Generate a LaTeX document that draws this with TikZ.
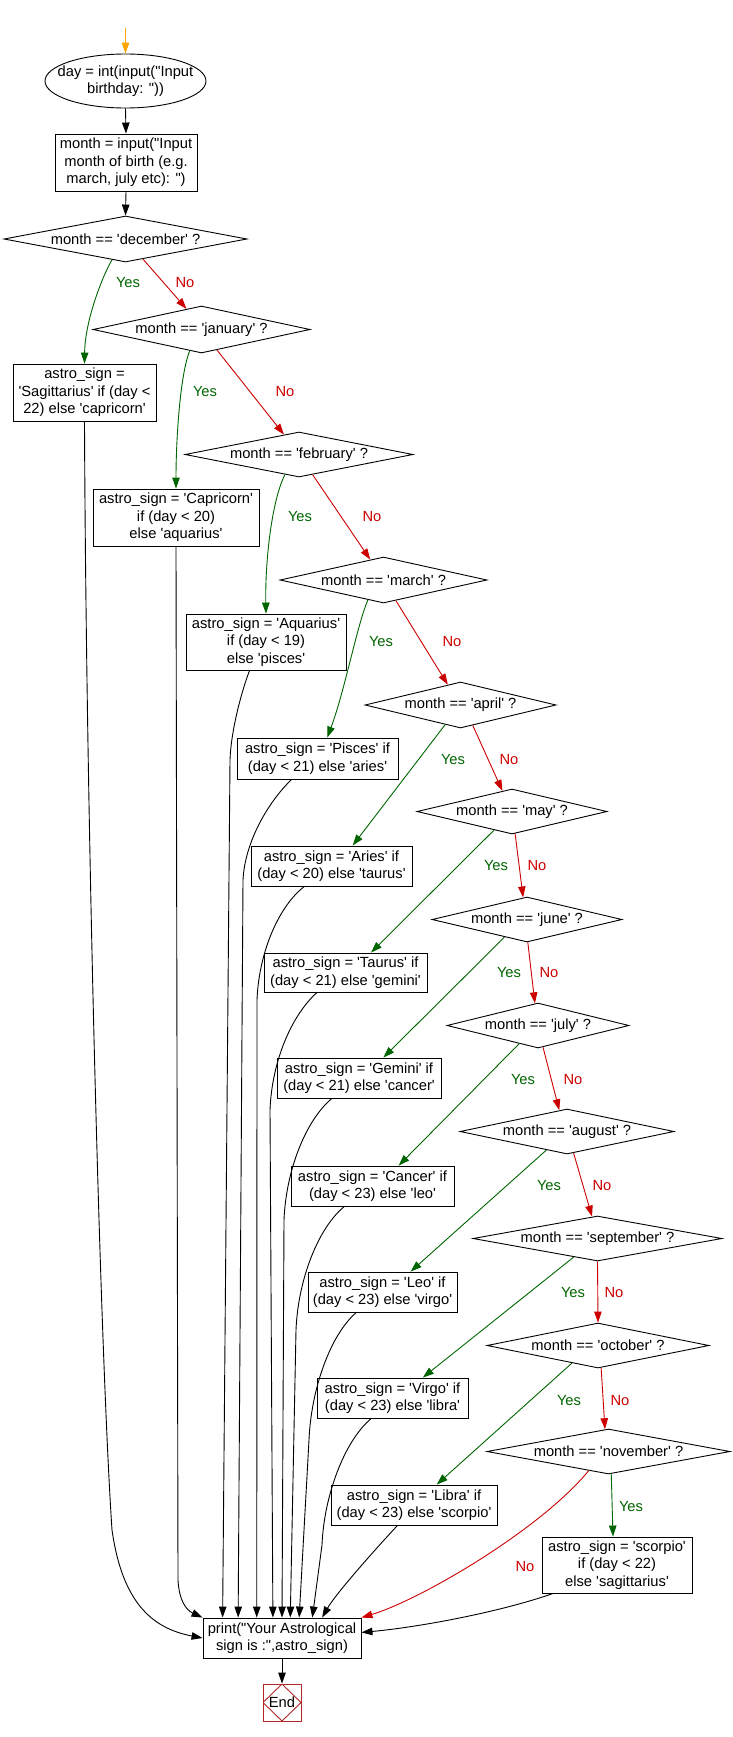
\documentclass[tikz,border=0pt]{standalone}
\usepackage{fontspec}
\newfontfamily\af{Liberation Sans}
\usetikzlibrary{shapes.geometric,arrows.meta}
\definecolor{grn}{RGB}{0,100,0}
\definecolor{rd}{RGB}{204,0,0}
\definecolor{endc}{RGB}{178,40,40}
\definecolor{orng}{RGB}{255,165,0}
\begin{document}
\begin{tikzpicture}[x=1pt,y=-1pt,
  every node/.style={font=\af\fontsize{14.7}{17.5}\selectfont},
  box/.style={draw, rectangle, inner sep=0pt, align=center, line width=0.9pt},
  dia/.style={draw, diamond, inner sep=0pt, line width=0.9pt},
  ell/.style={draw, ellipse, inner sep=0pt, line width=0.9pt},
  arr/.style={line width=0.9pt, -{Triangle[length=11pt,width=7.5pt]}},
  yesline/.style={arr, draw=grn},
  noline/.style={arr, draw=rd},
  flow/.style={arr, draw=black},
  yeslbl/.style={text=grn},
  nolbl/.style={text=rd},
]
\useasboundingbox (0,0) rectangle (732,1737);
\coordinate (start) at (125.5,28);
\node[ell, minimum width=161pt, minimum height=54pt,
  label={[align=center]center:{day = int(input("Input\\birthday: "))}}] (ell) at (125.5,81) {};
\node[box, minimum width=142pt, minimum height=57pt] (month) at (126,162.5)
  {month = input("Input\\month of birth (e.g.\\march, july etc): ")};

\node[dia, minimum width=243pt, minimum height=46pt, label=center:{month == 'december' ?}] (dec) at (125.5,239) {};
\node[dia, minimum width=217pt, minimum height=47pt, label=center:{month == 'january' ?}] (jan) at (201.5,329.5) {};
\node[dia, minimum width=228pt, minimum height=45pt, label=center:{month == 'february' ?}] (feb) at (299,454.5) {};
\node[dia, minimum width=207pt, minimum height=46pt, label=center:{month == 'march' ?}] (mar) at (383.5,580) {};
\node[dia, minimum width=191pt, minimum height=46pt, label=center:{month == 'april' ?}] (apr) at (460.5,705) {};
\node[dia, minimum width=190pt, minimum height=45pt, label=center:{month == 'may' ?}] (may) at (512,811.5) {};
\node[dia, minimum width=190pt, minimum height=45pt, label=center:{month == 'june' ?}] (jun) at (527,919.5) {};
\node[dia, minimum width=182pt, minimum height=45pt, label=center:{month == 'july' ?}] (jul) at (538,1025.5) {};
\node[dia, minimum width=214pt, minimum height=45pt, label=center:{month == 'august' ?}] (aug) at (567,1131.5) {};
\node[dia, minimum width=249pt, minimum height=45pt, label=center:{month == 'september' ?}] (sep) at (597.5,1238.5) {};
\node[dia, minimum width=222pt, minimum height=45pt, label=center:{month == 'october' ?}] (oct) at (598,1345.5) {};
\node[dia, minimum width=243pt, minimum height=45pt, label=center:{month == 'november' ?}] (nov) at (608.5,1451.5) {};

\node[box, minimum width=143pt, minimum height=57pt] (sag) at (84.5,392.5) {astro\_sign =\\'Sagittarius' if (day <\\22) else 'capricorn'};
\node[box, minimum width=166pt, minimum height=57pt] (cap) at (176,517.5) {astro\_sign = 'Capricorn'\\if (day < 20)\\else 'aquarius'};
\node[box, minimum width=160pt, minimum height=56pt] (aqu) at (266,642) {astro\_sign = 'Aquarius'\\if (day < 19)\\else 'pisces'};
\node[box, minimum width=161pt, minimum height=41pt] (pis) at (317.5,758.5) {astro\_sign = 'Pisces' if\\(day < 21) else 'aries'};
\node[box, minimum width=161pt, minimum height=40pt] (ari) at (331.5,866) {astro\_sign = 'Aries' if\\(day < 20) else 'taurus'};
\node[box, minimum width=163pt, minimum height=39pt] (tau) at (345.5,972.5) {astro\_sign = 'Taurus' if\\(day < 21) else 'gemini'};
\node[box, minimum width=164pt, minimum height=40pt] (gem) at (359,1078) {astro\_sign = 'Gemini' if\\(day < 21) else 'cancer'};
\node[box, minimum width=163pt, minimum height=40pt] (can) at (372.5,1186) {astro\_sign = 'Cancer' if\\(day < 23) else 'leo'};
\node[box, minimum width=149pt, minimum height=40pt] (leo) at (382.5,1292) {astro\_sign = 'Leo' if\\(day < 23) else 'virgo'};
\node[box, minimum width=151pt, minimum height=40pt] (vir) at (392.5,1398) {astro\_sign = 'Virgo' if\\(day < 23) else 'libra'};
\node[box, minimum width=166pt, minimum height=40pt] (lib) at (414,1505) {astro\_sign = 'Libra' if\\(day < 23) else 'scorpio'};
\node[box, minimum width=150pt, minimum height=56pt] (sco) at (617,1565) {astro\_sign = 'scorpio'\\if (day < 22)\\else 'sagittarius'};
\node[box, minimum width=158pt, minimum height=40pt] (print) at (282,1638) {print("Your Astrological\\sign is :",astro\_sign)};
\node[draw=endc, line width=0.9pt, minimum width=38pt, minimum height=37pt, inner sep=0pt,
  path picture={\draw[endc, line width=0.9pt] (path picture bounding box.north) -- (path picture bounding box.east) -- (path picture bounding box.south) -- (path picture bounding box.west) -- cycle;}] (endnode) at (282,1702.5) {End};

% labels
\node[yeslbl] (y1) at (128,283) {Yes};   \node[nolbl] (n1) at (185,283) {No};
\node[yeslbl] (y2) at (205,392) {Yes};   \node[nolbl] (n2) at (285,392) {No};
\node[yeslbl] (y3) at (300,517) {Yes};   \node[nolbl] (n3) at (372,517) {No};
\node[yeslbl] (y4) at (381,642) {Yes};   \node[nolbl] (n4) at (452,642) {No};
\node[yeslbl] (y5) at (453,760) {Yes};   \node[nolbl] (n5) at (509,760) {No};
\node[yeslbl] (y6) at (496,866) {Yes};   \node[nolbl] (n6) at (537,866) {No};
\node[yeslbl] (y7) at (509,973) {Yes};   \node[nolbl] (n7) at (549,973) {No};
\node[yeslbl] (y8) at (523,1080) {Yes};  \node[nolbl] (n8) at (573,1080) {No};
\node[yeslbl] (y9) at (549,1186) {Yes};  \node[nolbl] (n9) at (602,1186) {No};
\node[yeslbl] (y10) at (573,1292) {Yes}; \node[nolbl] (n10) at (614,1292) {No};
\node[yeslbl] (y11) at (569,1400) {Yes}; \node[nolbl] (n11) at (620,1400) {No};
\node[yeslbl] (y12) at (631,1506) {Yes}; \node[nolbl] (n12) at (525,1566) {No};

% connectors
\draw[arr, draw=orng] (start) -- (ell.north);
\draw[flow] (ell.south) -- (month.north);
\draw[flow] (month.south) -- (dec.north);

\draw[yesline] (dec.237) .. controls (103,275) and (85,320) .. (sag.north);
\draw[noline] (dec.311) -- (jan.126);
\draw[yesline] (jan.241) .. controls (180,375) and (176,440) .. (cap.north);
\draw[noline] (jan.307) -- (feb.127);
\draw[yesline] (feb.235) .. controls (272,500) and (265,560) .. (aqu.north);
\draw[noline] (feb.304) -- (mar.123);
\draw[yesline] (mar.232) .. controls (357,625) and (345,690) .. (pis.65);
\draw[noline] (mar.301) -- (apr.122);
\draw[yesline] (apr.232) -- (ari.44);
\draw[noline] (apr.301) -- (may.115);
\draw[yesline] (may.226) -- (tau.38);
\draw[noline] (may.278) -- (jun.100);
\draw[yesline] (jun.218) -- (gem.40);
\draw[noline] (jun.272) -- (jul.98);
\draw[yesline] (jul.224) -- (can.38);
\draw[noline] (jul.283) -- (aug.110);
\draw[yesline] (aug.222) -- (leo.36);
\draw[noline] (aug.287) -- (sep.104);
\draw[yesline] (sep.218) -- (vir.34);
\draw[noline] (sep.270) -- (oct.90);
\draw[yesline] (oct.214) -- (lib.42);
\draw[noline] (oct.278) -- (nov.99);
\draw[yesline] (nov.277) -- (sco.98);
\draw[noline] (nov.224) .. controls (540,1530) and (420,1600) .. (print.north east);

\draw[flow] (sag.south) .. controls (86,800) and (100,1350) .. (112,1530) .. controls (122,1600) and (150,1628) .. (print.west);
\draw[flow] (cap.south) -- (178,1580) .. controls (179,1600) and (186,1610) .. (print.north west);
\draw[flow] (aqu.240) .. controls (242,690) and (231,730) .. (230,760) -- (print.161);
\draw[flow] (pis.219) .. controls (270,800) and (245,840) .. (243,880) -- (print.155);
\draw[flow] (ari.217) .. controls (280,905) and (259,950) .. (257,1000) -- (print.141);
\draw[flow] (tau.215) .. controls (292,1015) and (272,1060) .. (270,1110) -- (print.114);
\draw[flow] (gem.217) .. controls (306,1120) and (286,1170) .. (284,1220) -- (print.90);
\draw[flow] (can.216) .. controls (318,1228) and (298,1280) .. (296,1330) -- (print.68);
\draw[flow] (leo.218) .. controls (330,1335) and (311,1390) .. (309,1440) -- (print.50);
\draw[flow] (vir.224) .. controls (345,1440) and (324,1495) .. (322,1545) -- (print.34);
\draw[flow] (lib.231) .. controls (370,1555) and (335,1595) .. (print.27);
\draw[flow] (sco.204) .. controls (500,1612) and (420,1627) .. (print.4);
\draw[flow] (print.south) -- (endnode.north);
\end{tikzpicture}
\end{document}
